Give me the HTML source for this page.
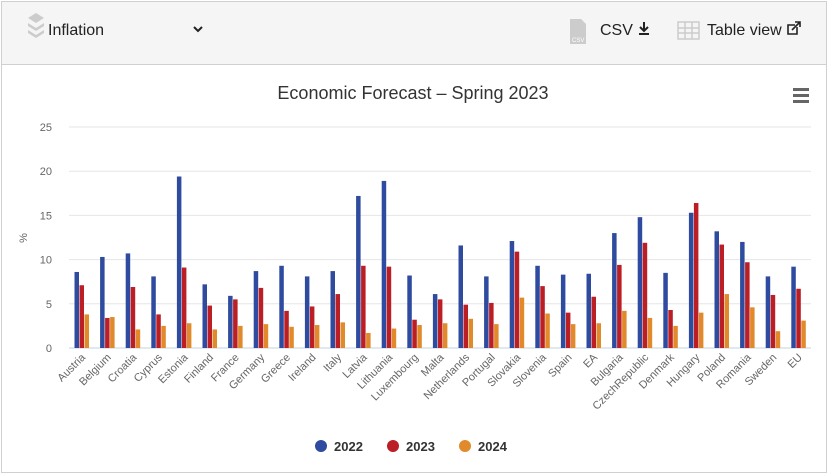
<!DOCTYPE html>
<html><head><meta charset="utf-8"><style>
body{margin:0;width:827px;height:462px;overflow:hidden;background:#fff;font-family:"Liberation Sans",sans-serif}
#wrap{position:absolute;left:1px;top:1px;width:824px;height:470px;border:1px solid #d0d0d0}
#bar{position:absolute;left:0;top:0;width:824px;height:62px;background:#f5f5f5;border-bottom:1px solid #d0d0d0}
svg{position:absolute;left:0;top:0}
</style></head><body>
<div id="wrap"><div id="bar"></div></div>
<svg id="s" width="827" height="462" xmlns="http://www.w3.org/2000/svg" font-family="Liberation Sans, sans-serif">
<g fill="#ccc"><path d="M28 18 L36 13 L44 18 L36 23Z"/><path d="M28 23 L36 28 L44 23 L44 26 L36 31 L28 26Z"/><path d="M28 30 L36 35 L44 30 L44 33 L36 38 L28 33Z"/></g>
<text x="48" y="35" font-size="16" fill="#222">Inflation</text>
<path d="M194 27 l4 4 l4 -4" stroke="#222" stroke-width="2" fill="none"/>
<path d="M570 19 h11 l5 5 v20 h-16z" fill="#ccc"/><text x="572" y="42" font-size="6" fill="#fff">CSV</text>
<text x="600" y="35" font-size="16" fill="#222">CSV</text>
<path d="M644 22 v9 M640 27 l4 4 l4 -4 M639 34 h10" stroke="#222" stroke-width="2" fill="none"/>
<g stroke="#ccc" fill="none" stroke-width="1.5"><rect x="678" y="22" width="21" height="17"/><path d="M678 28 h21 M678 33 h21 M685 22 v17 M692 22 v17"/></g>
<text x="707" y="35" font-size="16" fill="#222">Table view</text>
<g stroke="#222" stroke-width="1.6" fill="none"><path d="M795 25 h-7 v9 h9 v-7"/><path d="M792 30 l8 -8 M795 22 h5 v5"/></g>
<text x="413" y="99" font-size="18" fill="#333" text-anchor="middle">Economic Forecast – Spring 2023</text>
<g fill="#666"><rect x="793" y="88" width="16" height="3"/><rect x="793" y="94" width="16" height="3"/><rect x="793" y="100" width="16" height="3"/></g>
<g id="g"></g>
<g font-size="13" font-weight="bold" fill="#333">
<circle cx="321" cy="446" r="6" fill="#2f4b9f"/><text x="334" y="451">2022</text>
<circle cx="393" cy="446" r="6" fill="#bb1e24"/><text x="406" y="451">2023</text>
<circle cx="465" cy="446" r="6" fill="#e08a2c"/><text x="478" y="451">2024</text>
</g>
<text transform="translate(27,238) rotate(-90)" font-size="11" fill="#666" text-anchor="middle">%</text>
</svg>
<script>
var d=[["Austria",8.6,7.1,3.8],["Belgium",10.3,3.4,3.5],["Croatia",10.7,6.9,2.1],["Cyprus",8.1,3.8,2.5],["Estonia",19.4,9.1,2.8],["Finland",7.2,4.8,2.1],["France",5.9,5.5,2.5],["Germany",8.7,6.8,2.7],["Greece",9.3,4.2,2.4],["Ireland",8.1,4.7,2.6],["Italy",8.7,6.1,2.9],["Latvia",17.2,9.3,1.7],["Lithuania",18.9,9.2,2.2],["Luxembourg",8.2,3.2,2.6],["Malta",6.1,5.5,2.8],["Netherlands",11.6,4.9,3.3],["Portugal",8.1,5.1,2.7],["Slovakia",12.1,10.9,5.7],["Slovenia",9.3,7.0,3.9],["Spain",8.3,4.0,2.7],["EA",8.4,5.8,2.8],["Bulgaria",13.0,9.4,4.2],["CzechRepublic",14.8,11.9,3.4],["Denmark",8.5,4.3,2.5],["Hungary",15.3,16.4,4.0],["Poland",13.2,11.7,6.1],["Romania",12.0,9.7,4.6],["Sweden",8.1,6.0,1.9],["EU",9.2,6.7,3.1]];
var h='',c=['#2f4b9f','#bb1e24','#e08a2c'];
for(var v=0;v<=25;v+=5){var y=348-v*8.84;h+='<line x1="69" x2="811" y1="'+y+'" y2="'+y+'" stroke="'+(v?'#e6e6e6':'#c0d0e0')+'"/><text x="52" y="'+(y+4)+'" font-size="11" fill="#666" text-anchor="end">'+v+'</text>';}
d.forEach(function(r,i){var cx=69.2+25.6*i+12.8;for(var k=0;k<3;k++){var hh=r[k+1]*8.84;h+='<rect x="'+(cx-7.5+k*5)+'" y="'+(348-hh)+'" width="4.5" height="'+hh+'" fill="'+c[k]+'"/>';}
h+='<text transform="translate('+(cx+4)+',358) rotate(-45)" font-size="11" fill="#666" text-anchor="end">'+r[0]+'</text>';});
document.getElementById('g').innerHTML=h;
</script>
</body></html>
